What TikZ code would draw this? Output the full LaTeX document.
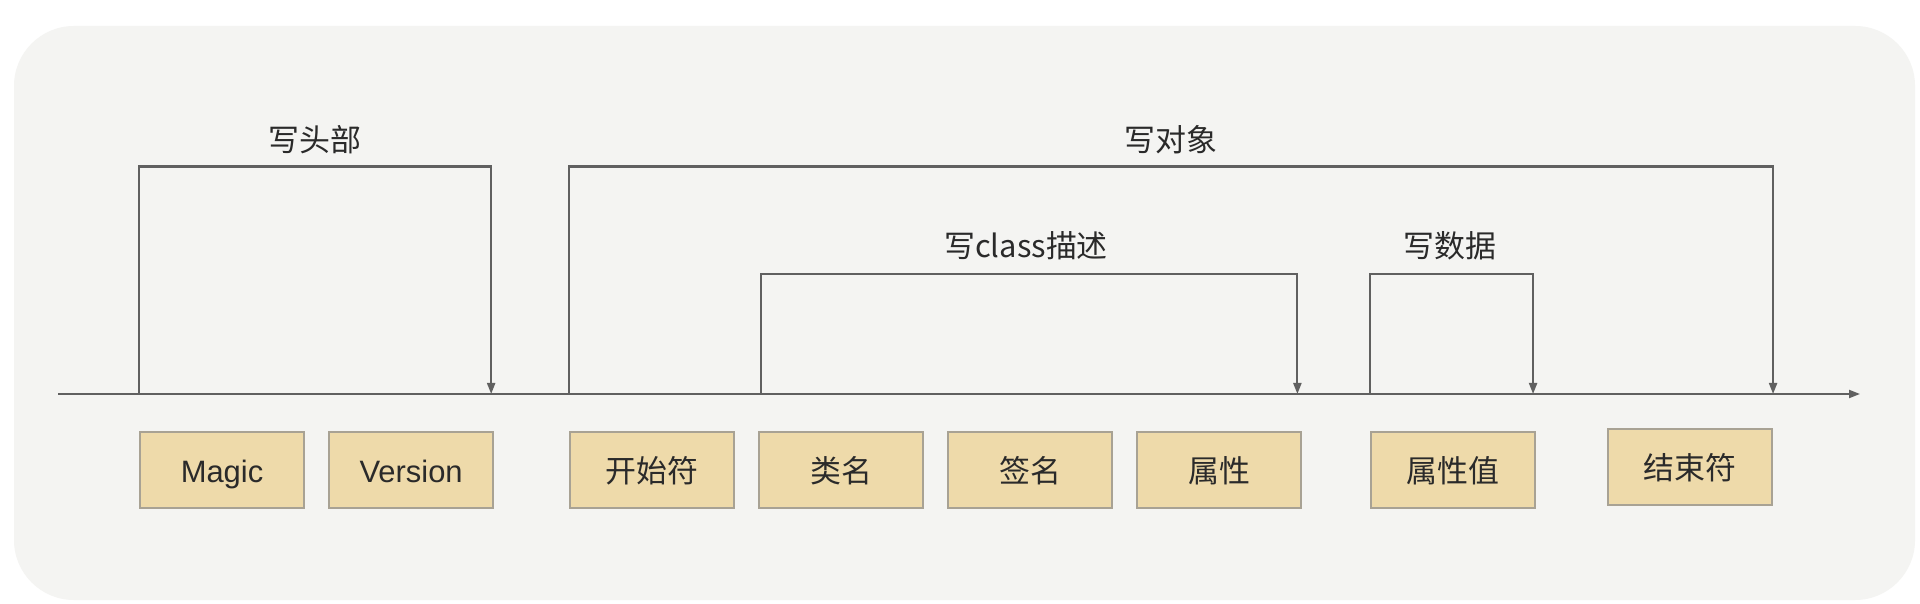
\documentclass[tikz,border=0pt]{standalone}
\usepackage{fontspec}
\setmainfont{Liberation Sans}
\newfontfamily\cjk{Noto Sans CJK SC}
\usetikzlibrary{arrows.meta,positioning}

\definecolor{panelgray}{HTML}{F4F4F2}
\definecolor{fieldfill}{HTML}{EEDAAA}
\definecolor{fieldline}{HTML}{A8A294}
\definecolor{linegray}{HTML}{606060}
\definecolor{textdark}{HTML}{2A2A2A}
\newcommand{\fieldfont}{\fontsize{8.8}{10}\selectfont}

\begin{document}
\begin{tikzpicture}[
    field/.style={draw=fieldline, fill=fieldfill, line width=0.6pt, minimum width=1.64cm, minimum height=0.76cm, inner sep=0pt, text height=1.6ex, text depth=0.3ex, text=textdark, font=\fieldfont},
    phase/.style={text=textdark, font=\fieldfont\cjk, inner sep=0pt},
    brace/.style={draw=linegray, line width=0.6pt, -{Triangle[length=0.11cm, width=0.08cm]}}
]
    % Page and panel
    \fill[white] (0,0) rectangle (19.2,-6.04);
    \useasboundingbox (0,0) rectangle (19.2,-6.04);
    \fill[panelgray, rounded corners=0.6cm] (0.14,-0.26) rectangle (19.15,-6.00);

    % Fields of the stream
    \node[field] (magic) at (2.22,-4.70) {Magic};
    \node[field, right=0.23cm of magic] (version) {Version};
    \node[field] (start) at (6.52,-4.70) {\cjk 开始符};
    \node[field, right=0.23cm of start] (cls) {\cjk 类名};
    \node[field, right=0.23cm of cls] (sig) {\cjk 签名};
    \node[field, right=0.23cm of sig] (attr) {\cjk 属性};
    \node[field] (val) at (14.53,-4.70) {\cjk 属性值};
    \node[field] (endf) at (16.90,-4.67) {\cjk 结束符};

    % Time line
    \coordinate (axisL) at (0.58,-3.94);
    \coordinate (axisR) at (18.60,-3.94);
    \draw[brace] (axisL) -- (axisR);

    % Phase labels
    \node[phase] (head) at (3.15,-1.40) {写头部};
    \node[phase] (obj) at (11.71,-1.40) {写对象};
    \node[phase] (desc) at (10.26,-2.46) {写class描述};
    \node[phase] (data) at (14.50,-2.46) {写数据};

    % Bracket tops and ends
    \coordinate (outer) at (0,-1.665);
    \coordinate (inner) at (0,-2.74);
    \coordinate (headend) at ([xshift=-0.03cm]version.east);
    \coordinate (descbeg) at ([xshift=0.03cm]cls.west);
    \coordinate (descend) at ([xshift=-0.05cm]attr.east);
    \coordinate (dataend) at ([xshift=-0.03cm]val.east);

    % Brackets
    \draw[brace] (magic.west |- axisL) -- (magic.west |- outer) -- (headend |- outer) -- (headend |- axisL);
    \draw[brace] (start.west |- axisL) -- (start.west |- outer) -- (endf.east |- outer) -- (endf.east |- axisL);
    \draw[brace] (descbeg |- axisL) -- (descbeg |- inner) -- (descend |- inner) -- (descend |- axisL);
    \draw[brace] (val.west |- axisL) -- (val.west |- inner) -- (dataend |- inner) -- (dataend |- axisL);

\end{tikzpicture}
\end{document}
